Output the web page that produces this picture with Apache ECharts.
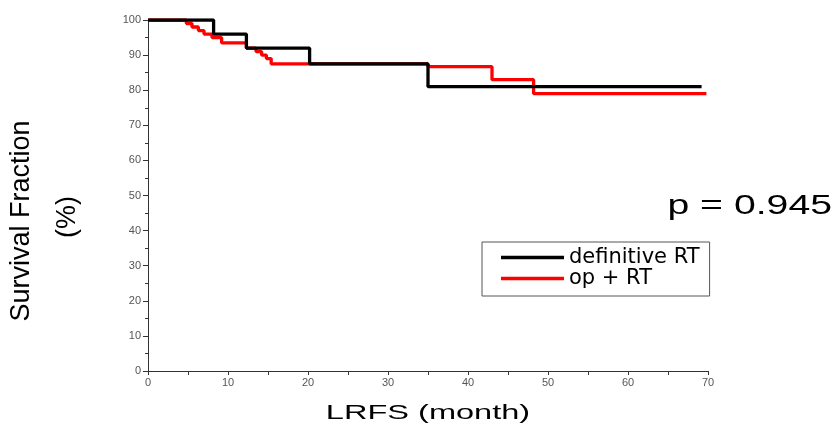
<!DOCTYPE html>
<html>
<head>
<meta charset="utf-8">
<script src="https://cdn.jsdelivr.net/npm/echarts@6/dist/echarts.min.js"></script>
<style>
html,body{margin:0;padding:0;background:#fff;}
#chart{width:836px;height:435px;}
</style>
</head>
<body>
<div id="chart"></div>
<script>
// 生存曲线数据 (月份 / 百分比)
var defTime  = [0, 8.2, 12.3, 20.2, 35, 69.2];
var defValue = [100, 96, 92, 87.5, 81, 81];

var opTime  = [0, 4.8, 5.5, 6.3, 7.0, 8.0, 9.2, 12.3, 13.5, 14.2, 14.8, 15.4, 35, 43, 48.2, 69.8];
var opValue = [100, 99, 98, 97, 96, 95, 93.5, 92, 91, 90, 89, 87.5, 86.7, 83, 79, 79];

var seriesNames = ['definitive RT', 'op + RT'];
var pText = 'p = 0.945';

function zip(t, v){
    var out = [];
    for (var i = 0; i < t.length; i++) out.push([t[i], v[i]]);
    return out;
}

var chart = echarts.init(document.getElementById('chart'));
chart.setOption({
    animation:false,
    backgroundColor:'#fff',
    grid:{
        left:148,
        right:128,
        top:20,
        bottom:64
    },
    legend:{
        data:seriesNames,
        orient:'vertical',
        left:482,
        top:242,
        padding:[5, 10, 7, 19],
        itemGap:0,
        icon:'rect',
        itemWidth:63,
        itemHeight:3.5,
        borderColor:'#555',
        borderWidth:1,
        backgroundColor:'#fff',
        textStyle:{
            fontFamily:'DejaVu Sans',
            fontSize:21,
            color:'#000',
            lineHeight:20
        }
    },
    xAxis:{
        type:'value',
        min:0,
        max:70,
        interval:10,
        axisLine:{lineStyle:{color:'#333', width:1}},
        axisTick:{length:4, lineStyle:{color:'#333'}},
        minorTick:{show:true, splitNumber:2, length:4, lineStyle:{color:'#333'}},
        splitLine:{show:false},
        axisLabel:{
            fontFamily:'Liberation Sans',
            fontSize:11,
            color:'#555',
            margin:6
        }
    },
    yAxis:{
        type:'value',
        min:0,
        max:100,
        interval:10,
        axisLine:{show:true, lineStyle:{color:'#333', width:1}},
        axisTick:{show:true, length:5, lineStyle:{color:'#333'}},
        minorTick:{show:true, splitNumber:2, length:3, lineStyle:{color:'#333'}},
        splitLine:{show:false},
        axisLabel:{
            fontFamily:'Liberation Sans',
            fontSize:11,
            color:'#555',
            margin:7
        }
    },
    graphic:[
        {
            type:'text',
            x:428, y:413,
            scaleX:1.55,
            style:{
                text:'LRFS (month)',
                font:'21px "Liberation Sans"',
                fill:'#000',
                textAlign:'center',
                textVerticalAlign:'middle'
            }
        },
        {
            type:'text',
            x:22, y:221,
            rotation:Math.PI / 2,
            style:{
                text:'Survival Fraction',
                font:'27px "Liberation Sans"',
                fill:'#000',
                textAlign:'center',
                textVerticalAlign:'middle'
            }
        },
        {
            type:'text',
            x:68, y:217,
            rotation:Math.PI / 2,
            style:{
                text:'(%)',
                font:'27px "Liberation Sans"',
                fill:'#000',
                textAlign:'center',
                textVerticalAlign:'middle'
            }
        },
        {
            type:'text',
            x:832, y:206,
            scaleX:1.4,
            style:{
                text:pText,
                font:'28px "Liberation Sans"',
                fill:'#000',
                textAlign:'right',
                textVerticalAlign:'middle'
            }
        }
    ],
    series:[
        {
            name:'op + RT',
            type:'line',
            step:'end',
            symbol:'none',
            color:'#ff0000',
            lineStyle:{width:3.3, color:'#ff0000'},
            data:zip(opTime, opValue),
            z:2
        },
        {
            name:'definitive RT',
            type:'line',
            step:'end',
            symbol:'none',
            color:'#000',
            lineStyle:{width:3.3, color:'#000'},
            data:zip(defTime, defValue),
            z:3
        }
    ]
});
</script>
</body>
</html>
